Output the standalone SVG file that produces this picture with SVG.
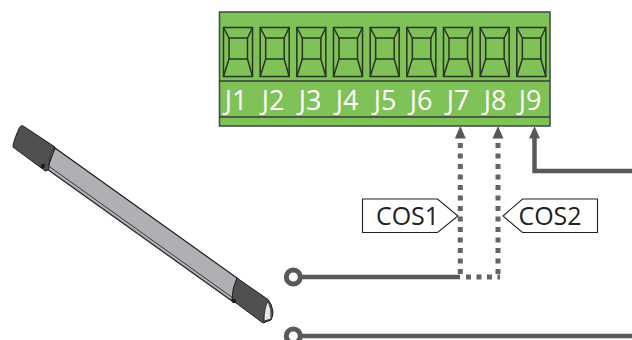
<svg xmlns="http://www.w3.org/2000/svg" xmlns:xlink="http://www.w3.org/1999/xlink" width="632" height="340" viewBox="0 0 632 340">
<style>
.lab{font-family:"Open Sans","Noto Sans",sans-serif}
.j{font-size:27px;fill:#fff;text-anchor:middle}
.cos{font-size:25px;fill:#222;text-anchor:middle}
.cell{fill:none;stroke:#2a3326;stroke-width:1.5}
.wire{fill:none;stroke:#58595b;stroke-width:4.5}
.dot{fill:none;stroke:#636466;stroke-width:5;stroke-dasharray:5 5.5}
.tag{fill:#fff;stroke:#222;stroke-width:1.1}
.ring{fill:#fff;stroke:#58595b;stroke-width:5}
.cap{fill:#4f5052;stroke:#1d1d1d;stroke-width:1;stroke-linejoin:round}
</style>
<defs>
<g id="c">
<rect class="cell" x="223.5" y="27.5" width="29" height="49"/>
<rect class="cell" x="229" y="38" width="18.5" height="21"/>
<path class="cell" d="M223.5 27.5L229 38M252.5 27.5L247.5 38M223.5 76.5L229 59M252.5 76.5L247.5 59"/>
</g>
</defs>
<g id="terminal-block">
<rect x="219.5" y="12" width="330.5" height="114" fill="#7fc257" stroke="#45504a" stroke-width="1.6"/>
<path d="M219.5 81H550M219.5 117H550" stroke="#33402f" stroke-width="1.4" fill="none"/>
<use xlink:href="#c"/>
<use xlink:href="#c" x="36.67"/>
<use xlink:href="#c" x="73.33"/>
<use xlink:href="#c" x="110"/>
<use xlink:href="#c" x="146.67"/>
<use xlink:href="#c" x="183.33"/>
<use xlink:href="#c" x="220"/>
<use xlink:href="#c" x="256.67"/>
<use xlink:href="#c" x="293.33"/>
<g class="lab j">
<text x="236" y="110">J1</text>
<text x="273" y="110">J2</text>
<text x="310" y="110">J3</text>
<text x="347" y="110">J4</text>
<text x="385" y="110">J5</text>
<text x="421" y="110">J6</text>
<text x="458" y="110">J7</text>
<text x="495" y="110">J8</text>
<text x="530" y="110">J9</text>
</g>
</g>
<g id="connectors">
<path class="dot" d="M460.3 143V277"/>
<path class="dot" d="M498 143V279"/>
<path class="dot" d="M466 277H500" />
<path class="wire" d="M298 277H460"/>
<path class="wire" d="M534.5 136V171H632"/>
<path class="wire" d="M298 336H632"/>
<path fill="#58595b" d="M460.3 126l5.5 12.5h-11zM498 126l5.5 12.5h-11zM534.5 126l5.5 12.5h-11z"/>
</g>
<g id="ring-1"><circle class="ring" cx="293.3" cy="277" r="7"/></g>
<g id="ring-2"><circle class="ring" cx="293.3" cy="336" r="7"/></g>
<g id="label-cos1">
<path class="tag" d="M362.5 199H437.5L458 216L437.5 232.5H362.5Z"/>
<text class="lab cos" x="407.5" y="225">COS1</text>
</g>
<g id="label-cos2">
<path class="tag" d="M597.5 199H522.5L503 216L522.5 232.5H597.5Z"/>
<text class="lab cos" x="550" y="225">COS2</text>
</g>
<g id="sensor-bar">
<path d="M47 169L232 301L237 278L55 148Z" fill="#aeb0b3" stroke="#1d1d1d" stroke-width="1.2"/>
<path d="M50 167L233 298" stroke="#1d1d1d" stroke-width="0.8" fill="none"/>
<path class="cap" d="M22.7 125.7Q20 125 18 131Q13 142 13 147L45.3 171Q48 171 49 168Q49 155 55 147Z"/>
<circle cx="43" cy="166" r="2.2" fill="#1d1d1d"/>
<path class="cap" d="M237 278L268 299.5Q272 304 273 312Q273 316 271 320L263 323L232 300Q232 288 237 278Z"/>
<circle cx="234" cy="301" r="2.2" fill="#1d1d1d"/>
<path d="M268 301Q264 308 264 321L271 319Q272 309 268 301Z" fill="#e6e7e8" stroke="#1d1d1d" stroke-width="0.8"/>
</g>
</svg>
